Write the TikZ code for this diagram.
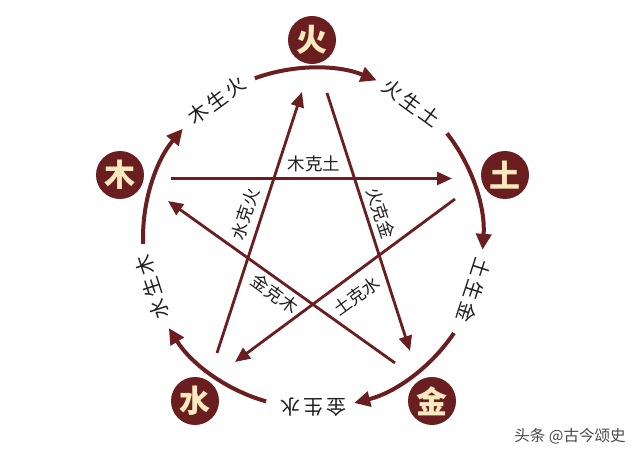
\documentclass[tikz,border=0pt]{standalone}
\usepackage{fontspec}
\setmainfont{Noto Sans CJK SC}
\usetikzlibrary{arrows.meta,calc}
\definecolor{maroon}{RGB}{106,30,32}
\definecolor{cream}{RGB}{248,234,190}
\definecolor{ink}{RGB}{35,30,30}
\begin{document}
\begin{tikzpicture}[x=1pt,y=1pt,
  elem/.style={circle,fill=maroon,minimum size=48pt,inner sep=0pt,text=cream,font=\fontsize{31}{31}\selectfont\bfseries},
  ringlabel/.style={text=ink,font=\fontsize{20}{20}\selectfont,inner sep=0pt},
  kelabel/.style={text=ink,font=\fontsize{17.5}{17.5}\selectfont,inner sep=0pt},
  ringarrow/.style={draw=maroon,line width=4pt,-{Triangle[length=16pt,width=15pt]}},
  kearrow/.style={draw=maroon,line width=2.8pt,-{Triangle[length=15pt,width=13pt]}},
]
\fill[white] (0,0) rectangle (640,-457);
\useasboundingbox (0,0) rectangle (640,-457);
\coordinate (C) at (313,-238);

% five elements
\node[elem] (huo)  at (312,-40)  {火};
\node[elem] (tu)   at (505,-175) {土};
\node[elem] (jin)  at (432,-401) {金};
\node[elem] (shui) at (195,-401) {水};
\node[elem] (mu)   at (120,-175) {木};

% generating ring
\foreach \a in {90,18,-54,-126,162}
  \draw[ringarrow] ($(C)+(\a+20:170)$) arc[start angle=\a+20, end angle=\a-22, radius=170];

\node[ringlabel,rotate=-36] (sheng1) at ($(C)+(54:167)$)  {火\kern3pt生\kern3pt土};
\node[ringlabel,rotate=-108] (sheng2) at ($(C)+(-18:169)$) {土\kern3pt生\kern3pt金};
\node[ringlabel,rotate=180] (sheng3) at ($(C)+(-90:169)$)  {金\kern3pt生\kern3pt水};
\node[ringlabel,rotate=108] (sheng4) at ($(C)+(197:168)$)  {水\kern3pt生\kern3pt木};
\node[ringlabel,rotate=36] (sheng5) at ($(C)+(125:168)$)   {木\kern3pt生\kern3pt火};

% overcoming star
\coordinate (k1s) at (171,-178.5); \coordinate (k1e) at (452,-178.5);
\coordinate (k2s) at (327,-93);    \coordinate (k2e) at (410,-351);
\coordinate (k3s) at (455,-199);   \coordinate (k3e) at (235,-362);
\coordinate (k4s) at (217,-353);   \coordinate (k4e) at (302,-92);
\coordinate (k5s) at (395,-363);   \coordinate (k5e) at (168,-201);
\draw[kearrow] (k1s) -- (k1e);
\draw[kearrow] (k2s) -- (k2e);
\draw[kearrow] (k3s) -- (k3e);
\draw[kearrow] (k4s) -- (k4e);
\draw[kearrow] (k5s) -- (k5e);

\node[kelabel] (ke1) at (314,-164) {木克土};
\node[kelabel,rotate=72] (ke4) at (245,-214) {水克火};
\node[kelabel,rotate=-72] (ke2) at (381,-213) {火克金};
\node[kelabel,rotate=-36] (ke5) at (275,-294) {金克木};
\node[kelabel,rotate=36] (ke3) at (357,-296) {土克水};

\node[font=\fontsize{15.5}{15.5}\selectfont,text=black!72,inner sep=0pt] (wm) at (570,-436) {头条 @古今颂史};
\end{tikzpicture}
\end{document}
